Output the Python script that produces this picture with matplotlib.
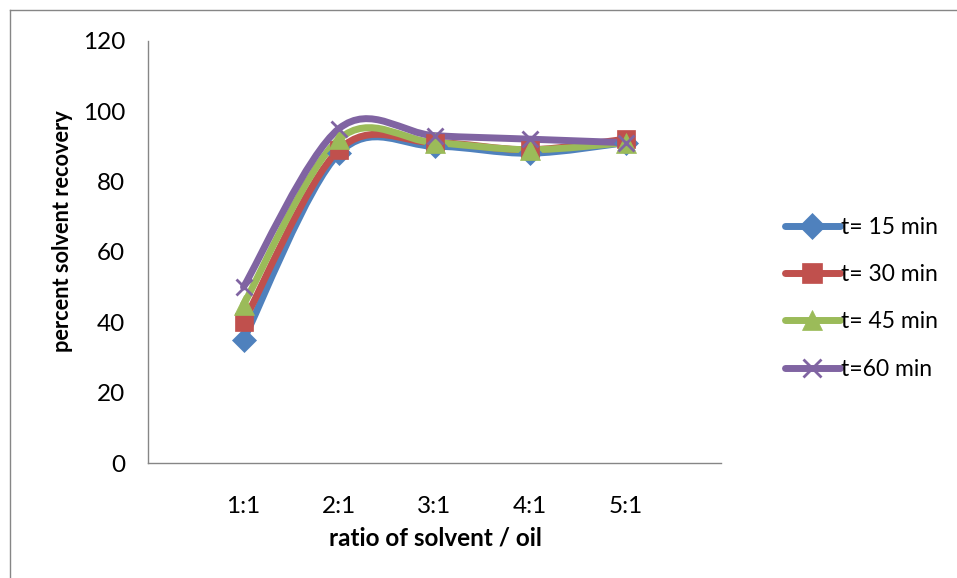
import matplotlib
matplotlib.use("Agg")
import matplotlib.pyplot as plt
import numpy as np
from matplotlib.path import Path
from matplotlib.patches import PathPatch
from matplotlib.lines import Line2D

plt.rcParams['font.family'] = ['Lato', 'DejaVu Sans']

ratios = ["1:1", "2:1", "3:1", "4:1", "5:1"]
x_pos = [1, 2, 3, 4, 5]
t15 = [35, 88, 90, 88, 91]
t30 = [40, 89, 91, 89, 92]
t45 = [45, 92, 91, 89, 91]
t60 = [50, 95, 93, 92, 91]

series = [
    ("t= 15 min", t15, "#4F81BD", "D", 12),
    ("t= 30 min", t30, "#C0504D", "s", 13),
    ("t= 45 min", t45, "#9BBB59", "^", 14),
    ("t=60 min", t60, "#8064A2", "x", 12),
]


def smooth_path(xs, ys):
    """Cubic Bezier path through the points (cardinal spline)."""
    p = np.column_stack([xs, ys]).astype(float)
    n = len(p)
    verts = [p[0]]
    codes = [Path.MOVETO]
    for i in range(n - 1):
        p_prev = p[i - 1] if i > 0 else p[i]
        p_next2 = p[i + 2] if i + 2 < n else p[i + 1]
        c1 = p[i] + (p[i + 1] - p_prev) / 6.0
        c2 = p[i + 1] - (p_next2 - p[i]) / 6.0
        verts += [c1, c2, p[i + 1]]
        codes += [Path.CURVE4] * 3
    return Path(verts, codes)


fig = plt.figure(figsize=(9.57, 5.78), dpi=100)
ax = fig.add_axes([148 / 957, 1 - 463 / 578, (721 - 148) / 957, (463 - 40.6) / 578])

for label, vals, color, marker, ms in series:
    ax.add_patch(PathPatch(smooth_path(x_pos, vals), facecolor="none",
                           edgecolor=color, lw=5, capstyle="round",
                           joinstyle="round", zorder=2))
    mew = 2 if marker == "x" else 0.5
    ax.plot(x_pos, vals, linestyle="none", marker=marker, markersize=ms,
            color=color, markeredgecolor=color, markeredgewidth=mew, zorder=3)

ax.set_xlim(0, 6)
ax.set_ylim(0, 120)
ax.set_yticks(np.arange(0, 121, 20))
ax.set_xticks(x_pos)
ax.set_xticklabels(ratios)
ax.tick_params(axis="both", length=0, labelsize=17.5, colors="black")
ax.tick_params(axis="y", pad=16.5)
ax.tick_params(axis="x", pad=24)
for s in ["top", "right"]:
    ax.spines[s].set_visible(False)
for s in ["left", "bottom"]:
    ax.spines[s].set_color("#868686")
    ax.spines[s].set_linewidth(1.0)

ax.set_ylabel("percent solvent recovery", fontsize=15.7, fontweight="bold")
ax.yaxis.set_label_coords(-0.131, 0.549)
ax.set_xlabel("ratio of solvent / oil", fontsize=17.5, fontweight="bold")
ax.xaxis.set_label_coords(0.502, -0.1515)

handles = [Line2D([], [], color=c, lw=5, marker=m, markersize=ms + 1,
                  markeredgewidth=(2 if m == "x" else 0.5), solid_capstyle="round")
           for _, _, c, m, ms in series]
fig.legend(handles, [s[0] for s in series], loc="upper left",
           bbox_to_anchor=(764 / 957, 1 - 196 / 578), frameon=False,
           fontsize=16.5, handlelength=2.4, handletextpad=0.05, labelspacing=1.15)

# chart area border
fig.add_artist(Line2D([10 / 957, 10 / 957], [1 - 10 / 578, -0.1],
                      transform=fig.transFigure, color="#868686", lw=1))
fig.add_artist(Line2D([10 / 957, 1.1], [1 - 10 / 578, 1 - 10 / 578],
                      transform=fig.transFigure, color="#868686", lw=1))

fig.savefig("out.png", dpi=100)
